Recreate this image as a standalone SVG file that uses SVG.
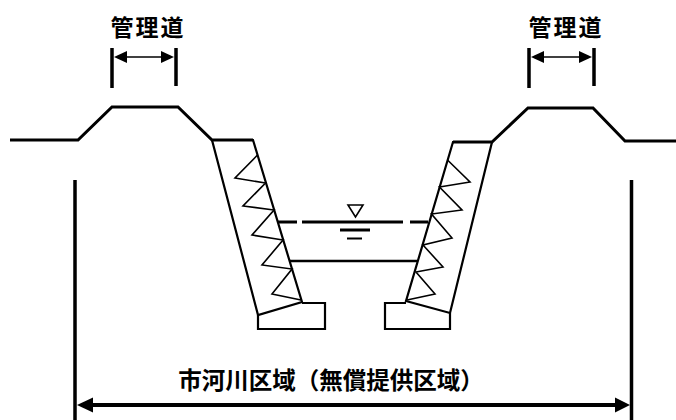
<svg xmlns="http://www.w3.org/2000/svg" width="676" height="420" viewBox="0 0 676 420">
<style>
.ln{fill:none;stroke:#000;stroke-linejoin:miter;stroke-linecap:butt}
.gr{stroke-width:3}
.wl{stroke-width:2.2}
.zz{stroke-width:1.6}
.tk{stroke-width:3.5}
.hd{fill:#000;stroke:none}
.lbl{font-family:"Noto Sans CJK JP","Noto Sans CJK SC",sans-serif;font-weight:bold;fill:#000;text-anchor:middle}
</style>
<rect width="676" height="420" fill="#fff"/>
<g id="terrain-left">
<path class="ln gr" d="M10,140 H78 L112,107 H178 L212,140 H253"/>
</g>
<g id="terrain-right">
<path class="ln gr" d="M453,142 H492 L528,108 H593 L625,141 H676"/>
</g>
<g id="wall-left">
<path class="ln wl" d="M212,140 L253,140 L302,302 L258,315 Z"/>
<path class="ln wl" d="M302,303 H325 V329 H258 V315"/>
<polyline class="ln zz" points="257.5,155 235,178 265.5,183 243,206 274,210 252,235 283,240 262,265 292,269 272,294 301,300"/>
</g>
<g id="wall-right">
<path class="ln wl" d="M453,142 L492,142 L450,313 L406,301 Z"/>
<path class="ln wl" d="M406,303 H385 V329 H450 V313"/>
<polyline class="ln zz" points="447.5,160 470,182 439.5,187 462,210 431.5,214 452,238 423,245 443,267 416,272 435,294 407,300"/>
</g>
<g id="water">
<path class="ln" stroke-width="3" d="M278,222 H297 M302,222 H403 M410,222 H428"/>
<path class="ln" stroke-width="2.5" d="M290,261 H417"/>
<path class="ln" stroke-width="1.6" fill="#fff" d="M348,205 H363 L355.5,217 Z"/>
<path class="ln" stroke-width="3" d="M340,230 H370"/>
<path class="ln" stroke-width="2" d="M347,238.5 H362"/>
</g>
<g id="connectors">
<path class="ln tk" d="M112,48 V88 M176,48 V86"/>
<path class="ln" stroke-width="1.6" d="M120,57 H168"/>
<polygon class="hd" points="114,57 127,51 127,63"/>
<polygon class="hd" points="174,57 161,51 161,63"/>
<path class="ln tk" d="M529,48 V88 M594,48 V86"/>
<path class="ln" stroke-width="1.6" d="M537,57 H586"/>
<polygon class="hd" points="531,57 544,51 544,63"/>
<polygon class="hd" points="592,57 579,51 579,63"/>
<path class="ln tk" d="M75,180 V420 M631.5,180 V420"/>
<path class="ln" stroke-width="4" d="M85,405 H622"/>
<polygon class="hd" points="77,405 93,397.5 93,412.5"/>
<polygon class="hd" points="630,405 615,397.5 615,412.5"/>
</g>
<g id="labels">
<text class="lbl" x="148" y="36" font-size="23" letter-spacing="2">管理道</text>
<text class="lbl" x="566" y="36" font-size="23" letter-spacing="2">管理道</text>
<text class="lbl" x="331" y="389" font-size="23.5">市河川区域（無償提供区域）</text>
</g>
</svg>
